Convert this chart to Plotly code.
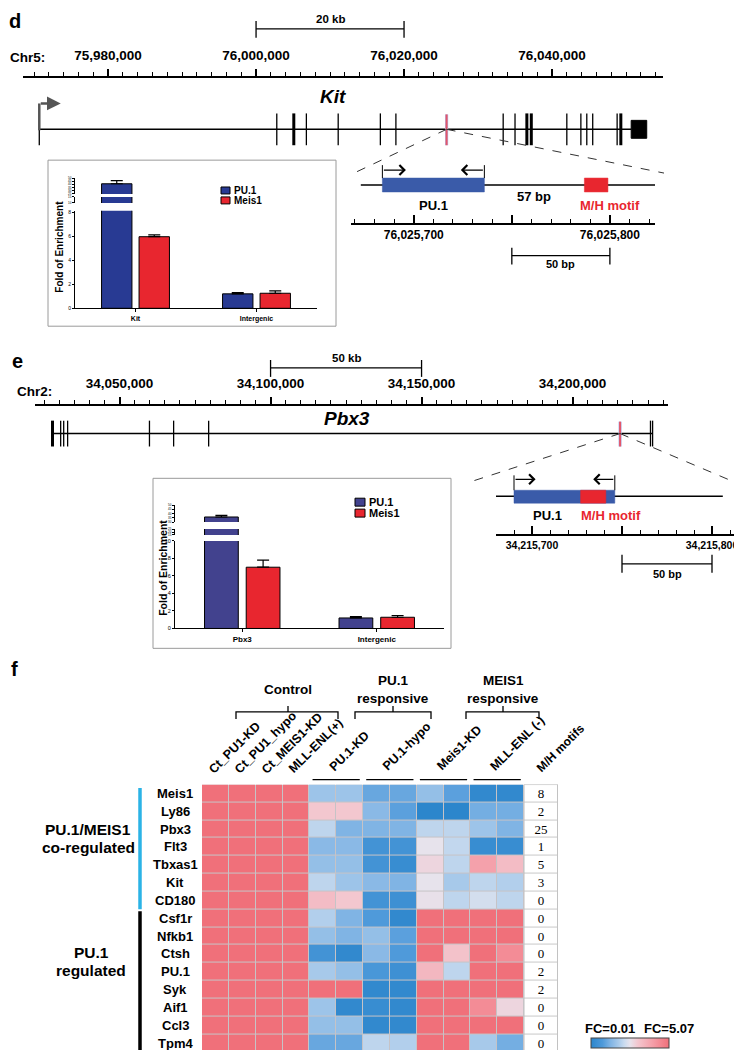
import plotly.graph_objects as go

W, H = 742, 1050
SANS = "Liberation Sans, Arial, sans-serif"
SERIF = "Liberation Serif, Times New Roman, serif"


def X(px):
    return px / W


def Y(py):
    return 1 - py / H


# ------------------------------------------------------------------ data
# Panel d : Kit locus (Chr5)
kit_chrom = "Chr5:"
kit_axis_range = [75968500, 76055000]
kit_major, kit_minor = 20000, 2000
kit_gene_span = [75970700, 76050700]
kit_exons = [76002800, 76005100, 76006800, 76011100, 76016800, 76018900,
             76033400, 76035000, 76036600, 76037200, 76042000, 76043900,
             76044700, 76045500, 76048800, 76049300]
kit_thick_exons = [76005100, 76036600, 76037200, 76049300]
kit_last_exon = [76050700, 76052800]
kit_site = 76025750
kit_scalebar = [76000000, 76020000]
kit_scalebar_label = "20 kb"

kit_inset_range = [76025668, 76025823]
kit_inset_line = [76025673, 76025823]
kit_inset_ticks = [76025700, 76025750, 76025800]
kit_pu1_region = [76025684, 76025736]
kit_motif = [76025787, 76025799]
kit_inset_scalebar = [76025750, 76025800]
kit_gap_label = "57 bp"

# Panel e : Pbx3 locus (Chr2)
pbx3_chrom = "Chr2:"
pbx3_axis_range = [34022000, 34231600]
pbx3_major, pbx3_minor = 50000, 5000
pbx3_gene_span = [34027800, 34226500]
pbx3_exons = [34027800, 34030500, 34031500, 34032800, 34059900, 34067900,
              34079500, 34225800, 34226500]
pbx3_thick_exons = [34027800]
pbx3_site = 34215730
pbx3_scalebar = [34100000, 34150000]
pbx3_scalebar_label = "50 kb"

pbx3_inset_range = [34215680, 34215815]
pbx3_inset_line = [34215680, 34215806]
pbx3_inset_ticks = [34215700, 34215750, 34215800]
pbx3_pu1_region = [34215690, 34215746]
pbx3_motif = [34215727, 34215741]
pbx3_inset_scalebar = [34215750, 34215800]

# ChIP-qPCR bar charts
series_names = ["PU.1", "Meis1"]
d_categories = ["Kit", "Intergenic"]
d_pu1 = [41.0, 1.2]
d_pu1_err = [5.0, 0.1]
d_meis1 = [5.95, 1.25]
d_meis1_err = [0.15, 0.2]

e_categories = ["Pbx3", "Intergenic"]
e_pu1 = [36.0, 1.2]
e_pu1_err = [2.0, 0.15]
e_meis1 = [7.0, 1.28]
e_meis1_err = [0.8, 0.2]

# Panel f : heat map (scaled log fold change: -1 = FC 0.01, +1 = FC 5.07)
genes = ["Meis1", "Ly86", "Pbx3", "Flt3", "Tbxas1", "Kit", "CD180",
         "Csf1r", "Nfkb1", "Ctsh", "PU.1", "Syk", "Aif1", "Ccl3", "Tpm4"]
n_coregulated = 7
control_cols = ["Ct_PU1-KD", "Ct_PU1_hypo", "Ct_MEIS1-KD", "MLL-ENL(+)"]
pair_cols = ["PU.1-KD", "PU.1-hypo", "Meis1-KD", "MLL-ENL (-)"]
heat = [
    [1, 1, 1, 1, -0.35, -0.35, -0.6, -0.6, -0.4, -0.65, -0.95, -0.95],
    [1, 1, 1, 1, 0.2, 0.2, -0.45, -0.65, -1.0, -1.0, -0.55, -0.55],
    [1, 1, 1, 1, -0.2, -0.5, -0.5, -0.5, -0.2, -0.2, -0.35, -0.5],
    [1, 1, 1, 1, -0.45, -0.45, -0.8, -0.8, 0.0, -0.18, -0.9, -0.9],
    [1, 1, 1, 1, -0.4, -0.4, -0.8, -0.9, 0.1, -0.2, 0.55, 0.3],
    [1, 1, 1, 1, -0.2, -0.35, -0.45, -0.5, 0.0, -0.3, -0.2, -0.25],
    [1, 1, 1, 1, 0.3, 0.2, -0.8, -0.85, 0.02, -0.2, -0.1, -0.2],
    [1, 1, 1, 1, -0.25, -0.5, -0.7, -0.95, 1, 1, 1, 1],
    [1, 1, 1, 1, -0.4, -0.5, -0.4, -0.65, 1, 1, 1, 1],
    [1, 1, 1, 1, -0.8, -0.95, -0.45, -0.7, 1, 0.25, 1, 0.75],
    [1, 1, 1, 1, -0.3, -0.4, -0.75, -0.85, 0.35, -0.2, 1, 1],
    [1, 1, 1, 1, 1, 1, -0.95, -0.95, 1, 1, 1, 1],
    [1, 1, 1, 1, -0.35, -0.95, -0.9, -0.95, 1, 1, 0.75, 0.1],
    [1, 1, 1, 1, -0.4, -0.4, -0.95, -0.95, 1, 1, 1, 1],
    [1, 1, 1, 1, -0.6, -0.6, -0.2, -0.25, 1, 1, -0.3, -0.55],
]
motifs = [8, 2, 25, 1, 5, 3, 0, 0, 0, 0, 2, 2, 0, 0, 0]
fc_labels = ["FC=0.01", "FC=5.07"]

# ------------------------------------------------------------------ styles
PU1_D = "#283a93"
PU1_E = "#42428e"
MEIS1_C = "#e8262f"
MOTIF_RED = "#e8262f"
REGION_BLUE = "#3a5ba9"
CYAN = "#2bb3e6"
heat_scale = [[0.0, "#2c86cc"], [0.15, "#4f9ada"], [0.25, "#80b4e4"],
              [0.35, "#a7c9ea"], [0.425, "#c9dbef"], [0.5, "#e7e3ec"],
              [0.6, "#f3c7cf"], [0.8, "#f49ca6"], [1.0, "#f0707a"]]

shapes, anns = [], []


def text(x, y, s, size, color="black", bold=True, italic=False,
         xanchor="center", yanchor="middle", xref="paper", yref="paper",
         angle=0, family=SANS, xshift=0):
    t = s
    if bold:
        t = "<b>%s</b>" % t
    if italic:
        t = "<i>%s</i>" % t
    anns.append(dict(x=x, y=y, xref=xref, yref=yref, text=t, showarrow=False,
                     font=dict(size=size, color=color, family=family),
                     xanchor=xanchor, yanchor=yanchor, textangle=angle,
                     borderpad=0, xshift=xshift))


def line(x0, y0, x1, y1, xref="paper", yref="paper", color="black",
         width=1.0, dash=None, layer="above"):
    shapes.append(dict(type="line", x0=x0, y0=y0, x1=x1, y1=y1, xref=xref,
                       yref=yref, layer=layer,
                       line=dict(color=color, width=width, dash=dash)))


def rect(x0, y0, x1, y1, xref="paper", yref="paper", fill=None,
         color="black", width=1.0, layer="above"):
    shapes.append(dict(type="rect", x0=x0, y0=y0, x1=x1, y1=y1, xref=xref,
                       yref=yref, layer=layer, fillcolor=fill,
                       line=dict(color=color, width=width)))


def to_paper(v, rng, dom_px):
    return X(dom_px[0] + (v - rng[0]) / (rng[1] - rng[0]) * (dom_px[1] - dom_px[0]))


fig = go.Figure()

# ------------------------------------------------------------------ gene tracks
KIT_DOM = (15, 655)
PBX_DOM = (27, 660)
KIT_IN_DOM = (343, 647)
PBX_IN_DOM = (488, 731)


def chrom_axis(dom, rng, major, minor, anchor):
    return dict(domain=[X(dom[0]), X(dom[1])], range=rng, anchor=anchor,
                side="top", showline=True, linewidth=2, linecolor="black",
                ticks="outside", ticklen=7, tickwidth=1.5, tickcolor="black",
                tick0=0, dtick=major, tickformat=",d", showgrid=False,
                zeroline=False, ticklabelstandoff=3,
                tickfont=dict(family=SANS, size=13.5, color="black", weight="bold"),
                minor=dict(dtick=minor, tick0=0, ticks="outside", ticklen=4,
                           tickwidth=1, tickcolor="black", showgrid=False))


def inset_axis(dom, rng, ticks, anchor, size):
    return dict(domain=[X(dom[0]), X(dom[1])], range=rng, anchor=anchor,
                side="bottom", showline=True, linewidth=2, linecolor="black",
                ticks="inside", ticklen=8, tickwidth=1.5, tickcolor="black",
                tickvals=ticks,
                ticktext=[f"{t:,}" if t % 100 == 0 else "" for t in ticks],
                showgrid=False, zeroline=False,
                tickfont=dict(family=SANS, size=size, color="black", weight="bold"),
                minor=dict(dtick=10, tick0=0, ticks="inside", ticklen=4,
                           tickwidth=1, tickcolor="black", showgrid=False))


def hidden_y(lo, hi):
    return dict(domain=[Y(lo), Y(hi)], range=[0, 1], visible=False,
                fixedrange=True)


# invisible helper traces so that every track subplot exists
for xa, ya, rng in [("x", "y", kit_axis_range), ("x2", "y2", kit_inset_range),
                    ("x4", "y6", pbx3_axis_range), ("x5", "y7", pbx3_inset_range)]:
    fig.add_trace(go.Scatter(x=rng, y=[0.5, 0.5], xaxis=xa, yaxis=ya,
                             mode="markers", marker=dict(opacity=0),
                             showlegend=False, hoverinfo="skip"))


def gene_track(xref, span, exons, thick, y_line, y_top, y_bot, site):
    line(span[0], Y(y_line), span[1], Y(y_line), xref=xref, width=1.5)
    for e in exons:
        line(e, Y(y_top), e, Y(y_bot), xref=xref,
             width=3 if e in thick else 1.3)
    line(site, Y(y_top + 1), site, Y(y_bot), xref=xref, color="#b4c2ec", width=3.2)
    line(site, Y(y_top + 1), site, Y(y_bot), xref=xref, color="#e4566a", width=2)


def inset_track(xref, line_span, pu1, motif, y_line, y_box_top, y_box_bot,
                y_arrow, y_brk_top):
    line(line_span[0], Y(y_line), line_span[1], Y(y_line), xref=xref, width=1.5)
    rect(pu1[0], Y(y_box_bot), pu1[1], Y(y_box_top), xref=xref,
         fill=REGION_BLUE, color=REGION_BLUE, width=0.5)
    rect(motif[0], Y(y_box_bot), motif[1], Y(y_box_top), xref=xref,
         fill=MOTIF_RED, color=MOTIF_RED, width=0.5)
    for p in pu1:
        line(p, Y(y_brk_top), p, Y(y_box_top), xref=xref, width=1)
    arrow_bp = 12
    for tail, head in [(pu1[0], pu1[0] + arrow_bp), (pu1[1], pu1[1] - arrow_bp)]:
        anns.append(dict(x=head, y=Y(y_arrow), xref=xref, yref="paper",
                         ax=tail, ay=0, axref=xref, ayref="pixel",
                         showarrow=True, arrowhead=4, arrowsize=1.6,
                         arrowwidth=1.2, arrowcolor="black", text="",
                         standoff=0, startstandoff=0))


def scalebar(xref, span, y_line, y_t0, y_t1, label, y_text, size):
    line(span[0], Y(y_line), span[1], Y(y_line), xref=xref, width=1.3)
    for p in span:
        line(p, Y(y_t0), p, Y(y_t1), xref=xref, width=1.3)
    text((span[0] + span[1]) / 2, Y(y_text), label, size, xref=xref)


# ---- panel d, Kit locus
text(X(0), Y(10), "d", 20, xanchor="left")
scalebar("x", kit_scalebar, 18, 10, 27, kit_scalebar_label, 8, 11.5)
text(X(1), Y(47), kit_chrom, 13.5, xanchor="left")
gene_track("x", kit_gene_span, kit_exons, kit_thick_exons, 119, 103, 135, kit_site)
line(kit_gene_span[0], Y(119), kit_gene_span[0], Y(135), xref="x", width=1.3)
rect(kit_last_exon[0], Y(128), kit_last_exon[1], Y(110), xref="x", fill="black")
line(kit_gene_span[0], Y(120), kit_gene_span[0], Y(93), xref="x",
     color="#555555", width=2.5)
anns.append(dict(x=kit_gene_span[0] + 2900, y=Y(93), xref="x", yref="paper",
                 ax=kit_gene_span[0], ay=0, axref="x", ayref="pixel",
                 showarrow=True, arrowhead=2, arrowsize=1.1, arrowwidth=2.5,
                 arrowcolor="#555555", text="", standoff=0))
text(X(325), Y(86), "Kit", 19, italic=True)
kx = to_paper(kit_site, kit_axis_range, KIT_DOM)
line(kx, Y(119), X(346), Y(163), dash="dash", width=1, color="#333333")
line(kx, Y(119), X(656), Y(163), dash="dash", width=1, color="#333333")

inset_track("x2", kit_inset_line, kit_pu1_region, kit_motif, 175, 168, 182, 160, 155)
text((kit_pu1_region[1] + kit_motif[0]) / 2, Y(187), kit_gap_label, 13, xref="x2")
text((kit_pu1_region[0] + kit_pu1_region[1]) / 2, Y(196), "PU.1", 13, xref="x2")
text(kit_motif[0], Y(196), "M/H motif", 13, color=MOTIF_RED, xref="x2",
     xanchor="left", xshift=-5)
scalebar("x2", kit_inset_scalebar, 246, 238, 255, "50 bp", 254, 11)

# ---- panel e, Pbx3 locus
text(X(3), Y(352), "e", 20, xanchor="left")
scalebar("x4", pbx3_scalebar, 359, 351, 368, pbx3_scalebar_label, 349, 11.5)
text(X(8), Y(383), pbx3_chrom, 13.5, xanchor="left")
gene_track("x4", pbx3_gene_span, pbx3_exons, pbx3_thick_exons, 425, 412, 438, pbx3_site)
text(X(339), Y(410), "Pbx3", 19, italic=True)
px_ = to_paper(pbx3_site, pbx3_axis_range, PBX_DOM)
line(px_, Y(425), X(464), Y(473), dash="dash", width=1, color="#333333")
line(px_, Y(425), X(734), Y(477), dash="dash", width=1, color="#333333")

inset_track("x5", pbx3_inset_line, pbx3_pu1_region, pbx3_motif, 488, 482, 495, 471, 467)
text((pbx3_pu1_region[0] + pbx3_motif[0]) / 2, Y(507), "PU.1", 13, xref="x5")
text(pbx3_motif[0], Y(507), "M/H motif", 13, color=MOTIF_RED, xref="x5",
     xanchor="left", xshift=-1)
scalebar("x5", pbx3_inset_scalebar, 556, 547, 565, "50 bp", 566, 11)

# ------------------------------------------------------------------ bar charts


def bar_set(xa, yas, cats, pu1, pu1e, meis, meise, pu1_color):
    for ya in yas:
        for vals, errs, col, grp in [(pu1, pu1e, pu1_color, "a"),
                                     (meis, meise, MEIS1_C, "b")]:
            fig.add_trace(go.Bar(
                x=cats, y=vals, xaxis=xa, yaxis=ya, offsetgroup=grp,
                marker=dict(color=col, line=dict(color="black", width=1)),
                error_y=dict(type="data", array=errs, arrayminus=[0] * len(errs),
                             symmetric=False, color="black", thickness=1.2,
                             width=6),
                showlegend=False, hoverinfo="skip"))


bar_set("x3", ["y3", "y4", "y5"], d_categories, d_pu1, d_pu1_err, d_meis1,
        d_meis1_err, PU1_D)
bar_set("x6", ["y8", "y9", "y10"], e_categories, e_pu1, e_pu1_err, e_meis1,
        e_meis1_err, PU1_E)


def bar_x(dom, anchor, size):
    return dict(domain=[X(dom[0]), X(dom[1])], anchor=anchor, range=[-0.5, 1.5],
                showline=True, linewidth=1, linecolor="black", ticks="outside",
                ticklen=3, tickcolor="black", showgrid=False, zeroline=False,
                tickfont=dict(family=SANS, size=size, color="black", weight="bold"))


def bar_y(lo, hi, rng, vals, size, anchor):
    return dict(domain=[Y(lo), Y(hi)], range=rng, anchor=anchor, tickvals=vals,
                showline=True, linewidth=1, linecolor="black", ticks="outside",
                ticklen=2, tickcolor="black", showgrid=False, zeroline=False,
                fixedrange=True,
                tickfont=dict(family=SANS, size=size, color="black"))


# boxes, titles, legends
rect(X(40), Y(317), X(328), Y(150), color="#9a9a9a", width=1)
rect(X(145), Y(641), X(443), Y(470), color="#9a9a9a", width=1)
text(X(52), Y(237), "Fold of Enrichment", 10, angle=-90)
text(X(155), Y(560), "Fold of Enrichment", 10.5, angle=-90)
for i, (nm, col) in enumerate(zip(series_names, [PU1_D, MEIS1_C])):
    y0 = 177 + 10 * i
    rect(X(213), Y(y0 + 7), X(222), Y(y0), fill=col, color="black", width=1)
    text(X(225), Y(y0 + 3.5), nm, 10, xanchor="left")
for i, (nm, col) in enumerate(zip(series_names, [PU1_E, MEIS1_C])):
    y0 = 490 + 11 * i
    rect(X(347), Y(y0 + 8), X(357), Y(y0), fill=col, color="black", width=1)
    text(X(360), Y(y0 + 4), nm, 11, xanchor="left")

# ------------------------------------------------------------------ heat map
HX0, HX1, HY0, HY1 = 194, 516, 778, 1047
ncol = len(heat[0])
fig.add_trace(go.Heatmap(
    z=heat, x=list(range(ncol)), y=genes, xaxis="x7", yaxis="y11",
    colorscale=heat_scale, zmin=-1, zmax=1, xgap=1, ygap=1, hoverinfo="skip",
    colorbar=dict(orientation="h", x=X(622), xanchor="center", y=Y(1033),
                  yanchor="top", len=78, lenmode="pixels", thickness=10,
                  thicknessmode="pixels", outlinewidth=1, outlinecolor="#444",
                  showticklabels=False, ticks="", xpad=0, ypad=0)))
fig.add_trace(go.Heatmap(
    z=[[0] for _ in genes], x=[0], y=genes, xaxis="x8", yaxis="y11",
    colorscale=[[0, "white"], [1, "white"]], showscale=False, xgap=1, ygap=1,
    text=[[str(m)] for m in motifs], texttemplate="%{text}", hoverinfo="skip",
    textfont=dict(family=SERIF, size=13, color="black")))
rect(-0.5, -0.5, ncol - 0.5, len(genes) - 0.5, xref="x7", yref="y11",
     fill="#c6c3c6", color="#c6c3c6", width=0, layer="below")
rect(-0.5, -0.5, 0.5, len(genes) - 0.5, xref="x8", yref="y11",
     fill="#c8c8c8", color="#c8c8c8", width=0, layer="below")
rect(-0.5, -0.5, 0.5, len(genes) - 0.5, xref="x8", yref="y11",
     color="#bdbdbd", width=1)

# row labels
for g in genes:
    text(X(167), g, g, 13, yref="y11")
# group side bars & labels
line(X(132), -0.3, X(132), n_coregulated - 0.5, yref="y11", color=CYAN, width=3.5)
line(X(132), n_coregulated - 0.4, X(132), len(genes) - 0.5, yref="y11",
     color="black", width=3.5)
text(X(80), Y(823), "PU.1/MEIS1", 15.5)
text(X(80), Y(841), "co-regulated", 15.5)
text(X(83), Y(947), "PU.1", 15.5)
text(X(83), Y(965), "regulated", 15.5)

# column labels
for i, c in enumerate(control_cols):
    text(i - 0.42, Y(771), c, 12.5, xref="x7", angle=-45, xanchor="left",
         yanchor="bottom")
nctl = len(control_cols)
for k, c in enumerate(pair_cols):
    c0 = nctl + 2 * k
    text(c0 + 0.5 - 0.4, Y(768), c, 12.5, xref="x7", angle=-45,
         xanchor="left", yanchor="bottom")
    line(c0 - 0.5 + 0.12, Y(773), c0 + 1.5 - 0.12, Y(773), xref="x7", width=1.3)
text(-0.25, Y(770), "M/H motifs", 12, xref="x8", angle=-45, xanchor="left",
     yanchor="bottom")

# group headers with brackets
headers = [(["Control"], 228, 330, 280), (["PU.1", "responsive"], 347, 423, 385),
           (["MEIS1", "responsive"], 458, 531, 495)]
for lines_, x0, x1, xc in headers:
    shapes.append(dict(type="path", xref="paper", yref="paper",
                       path=f"M{X(x0)},{Y(712)} L{X(x0)},{Y(705)} L{X(x1)},{Y(705)} L{X(x1)},{Y(712)}",
                       line=dict(color="black", width=1.3)))
    line(X(xc), Y(705), X(xc), Y(699), width=1.3)
    if len(lines_) == 1:
        text(X(xc), Y(682), lines_[0], 13.5)
    else:
        text(X(xc), Y(673), lines_[0], 13.5)
        text(X(xc), Y(691), lines_[1], 13.5)

text(X(2), Y(662), "f", 20, xanchor="left")
text(X(602), Y(1023), fc_labels[0], 13)
text(X(661), Y(1023), fc_labels[1], 13)

# ------------------------------------------------------------------ layout
fig.update_layout(
    width=W, height=H, margin=dict(l=0, r=0, t=0, b=0),
    paper_bgcolor="white", plot_bgcolor="white", showlegend=False,
    barmode="group", bargap=0.38, bargroupgap=0.19,
    font=dict(family=SANS, color="black"),
    xaxis=chrom_axis(KIT_DOM, kit_axis_range, kit_major, kit_minor, "y"),
    yaxis=hidden_y(100, 67),
    xaxis2=inset_axis(KIT_IN_DOM, kit_inset_range, kit_inset_ticks, "y2", 12),
    yaxis2=hidden_y(213, 150),
    xaxis3=bar_x((67, 309), "y3", 7),
    yaxis3=bar_y(299, 201, [0, 8.1], [0, 2, 4, 6, 8], 5, "x3"),
    yaxis4=bar_y(193, 187, [10, 15], [10, 15], 3, "x3"),
    yaxis5=bar_y(184, 168, [25, 50], [25, 30, 35, 40, 45, 50], 3, "x3"),
    xaxis4=chrom_axis(PBX_DOM, pbx3_axis_range, pbx3_major, pbx3_minor, "y6"),
    yaxis6=hidden_y(420, 397),
    xaxis5=inset_axis(PBX_IN_DOM, pbx3_inset_range, pbx3_inset_ticks, "y7", 10.5),
    yaxis7=hidden_y(526, 466),
    xaxis6=bar_x((167, 436), "y8", 8),
    yaxis8=bar_y(621, 533, [0, 10], [0, 2, 4, 6, 8, 10], 5.5, "x6"),
    yaxis9=bar_y(527, 521, [15, 25], [15, 20, 25], 3, "x6"),
    yaxis10=bar_y(514, 497, [30, 50], [30, 35, 40, 45, 50], 3, "x6"),
    xaxis7=dict(domain=[X(HX0), X(HX1)], range=[-0.5, ncol - 0.5], anchor="y11",
                visible=False),
    yaxis11=dict(domain=[Y(HY1), Y(HY0)], range=[len(genes) - 0.5, -0.5],
                 visible=False, anchor="x7"),
    xaxis8=dict(domain=[X(HX1), X(550)], range=[-0.5, 0.5], anchor="y11",
                visible=False),
    shapes=shapes, annotations=anns,
)

fig.write_html("out.html")
